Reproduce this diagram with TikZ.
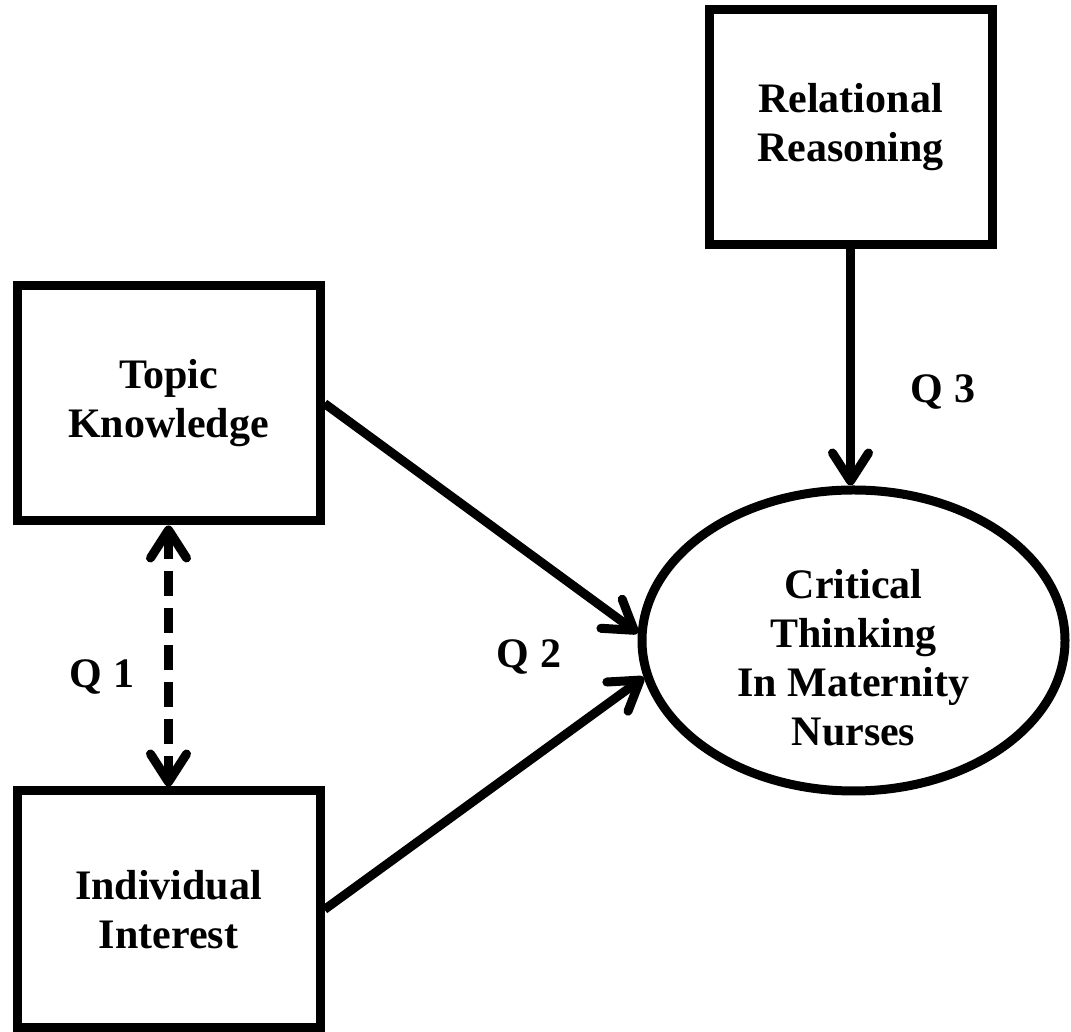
\documentclass[tikz,border=0pt]{standalone}
\usepackage{fontspec}
\setmainfont{Liberation Serif}
\usetikzlibrary{shapes.geometric, positioning, arrows.meta}
\tikzset{
    construct/.style={
        rectangle, draw=black, line width=4.5pt, minimum width=151.5pt, minimum height=117.5pt, inner sep=0pt, align=center, font=\bfseries\fontsize{21}{24.5}\selectfont
    },
    outcome/.style={
        ellipse, draw=black, line width=4.5pt, minimum width=211.5pt, minimum height=150.5pt, inner sep=0pt
    },
    qlabel/.style={
        anchor=base, inner sep=0pt, font=\bfseries\fontsize{21}{24.5}\selectfont
    },
    arrow/.style={
        line width=4.5pt, -{Straight Barb[length=14pt, width=18pt, line cap=round, line join=round]}
    },
    dasharrow/.style={
        arrow, {Straight Barb[length=14pt, width=18pt, line cap=round, line join=round]}-{Straight Barb[length=14pt, width=18pt, line cap=round, line join=round]}, dash pattern=on 12.5pt off 6pt
    }
}

\begin{document}
\begin{tikzpicture}[x=0.5pt, y=0.5pt]
    \useasboundingbox (0,0) rectangle (1071,1032);

    % Predictors
    \node[construct, minimum width=141.5pt] (relational) at (850.5,904.5) {Relational\\Reasoning};
    \node[construct] (topic) at (168.5,628.5) {Topic\\Knowledge};
    \node[construct, minimum height=118.5pt] (interest) at (168.5,122.5) {Individual\\Interest};

    % Outcome
    \node[outcome] (critical) at (853.5,391.5) {};
    \node[align=center, inner sep=0pt, font=\bfseries\fontsize{21}{24.5}\selectfont] (criticaltext) at (853.5,374) {Critical\\Thinking\\In Maternity\\Nurses};

    % Relationships
    \draw[dasharrow] (topic) -- (interest);
    \draw[arrow] (topic.east) -- (critical.178);
    \draw[arrow] (interest.east) -- (critical.190);
    \draw[arrow] (relational) -- (relational |- critical.north);

    % Research questions
    \node[qlabel] (q1) at (102,344) {Q 1};
    \node[qlabel] (q2) at (529,364) {Q 2};
    \node[qlabel] (q3) at (943,629) {Q 3};

\end{tikzpicture}
\end{document}
